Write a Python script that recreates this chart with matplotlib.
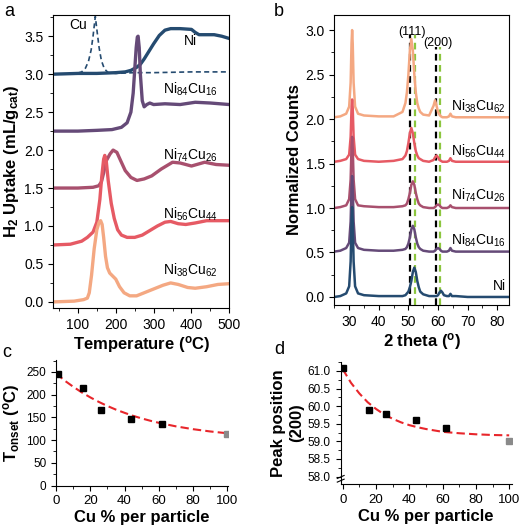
import matplotlib
matplotlib.use('Agg')
import matplotlib.pyplot as plt
from matplotlib.ticker import MultipleLocator

plt.rcParams['font.family'] = ['Liberation Sans', 'DejaVu Sans']
plt.rcParams['mathtext.fontset'] = 'custom'
plt.rcParams['mathtext.rm'] = 'Liberation Sans'
plt.rcParams['mathtext.it'] = 'Liberation Sans:italic'
plt.rcParams['mathtext.bf'] = 'Liberation Sans:bold'
plt.rcParams['mathtext.default'] = 'regular'

# colours for the samples
c_ni = '#254b70'
c_84 = '#654a78'
c_74 = '#a8506e'
c_56 = '#e65a64'
c_38 = '#f4a882'

# ---- (a) H2 TPR curves ----
cu_T = [35, 90, 110, 120, 128, 135, 140, 146, 151, 156, 162, 170, 180, 200, 250, 300, 400, 500]
cu_y = [3.00, 3.00, 3.03, 3.08, 3.17, 3.32, 3.50, 3.76, 3.55, 3.35, 3.18, 3.07, 3.02, 3.01, 3.02, 3.02, 3.03, 3.03]

ni_T = [35, 100, 150, 200, 225, 240, 255, 265, 275, 285, 300, 315, 330, 345, 370, 400, 410, 420, 440, 460, 480, 500]
ni_y = [3.00, 3.01, 3.01, 3.02, 3.03, 3.05, 3.09, 3.13, 3.20, 3.28, 3.40, 3.51, 3.58, 3.60, 3.60, 3.59, 3.55, 3.52, 3.52, 3.52, 3.50, 3.47]

n84_T = [35, 100, 150, 190, 215, 230, 240, 246, 250, 254, 257, 259, 262, 265, 270, 275, 282, 290, 300, 330, 370, 410, 450, 500]
n84_y = [2.25, 2.25, 2.26, 2.27, 2.30, 2.36, 2.50, 2.75, 3.05, 3.35, 3.49, 3.50, 3.35, 3.00, 2.65, 2.57, 2.60, 2.62, 2.60, 2.61, 2.60, 2.63, 2.62, 2.60]

n74_T = [35, 100, 140, 155, 162, 168, 175, 185, 193, 203, 213, 225, 240, 256, 275, 295, 320, 350, 370, 400, 435, 465, 500]
n74_y = [1.50, 1.50, 1.51, 1.53, 1.58, 1.70, 1.86, 1.95, 2.00, 1.97, 1.86, 1.73, 1.64, 1.60, 1.62, 1.66, 1.75, 1.84, 1.83, 1.79, 1.84, 1.81, 1.80]

n56_T = [35, 80, 110, 125, 140, 150, 158, 163, 168, 171, 175, 180, 188, 196, 205, 215, 230, 250, 270, 290, 310, 330, 345, 365, 385, 410, 440, 470, 500]
n56_y = [0.75, 0.76, 0.80, 0.85, 0.92, 1.05, 1.35, 1.65, 1.88, 1.93, 1.85, 1.60, 1.30, 1.10, 0.95, 0.88, 0.85, 0.85, 0.88, 0.94, 1.00, 1.05, 1.06, 1.03, 1.02, 1.04, 1.07, 1.07, 1.07]

n38_T = [35, 90, 115, 125, 130, 136, 143, 150, 156, 160, 164, 168, 173, 178, 184, 192, 200, 210, 222, 237, 255, 275, 300, 325, 345, 365, 390, 410, 440, 470, 500]
n38_y = [0.00, 0.01, 0.03, 0.05, 0.12, 0.35, 0.70, 0.95, 1.05, 1.07, 1.02, 0.85, 0.60, 0.45, 0.38, 0.34, 0.30, 0.20, 0.12, 0.08, 0.08, 0.12, 0.17, 0.22, 0.25, 0.23, 0.19, 0.18, 0.20, 0.23, 0.24]

# ---- (b) XRD patterns ----
tt = [25, 27, 29, 30, 30.5, 30.8, 31, 31.2, 31.5, 32, 33, 35, 40, 45, 48, 49, 49.5, 50, 50.5, 51, 51.5,
      52, 52.5, 53, 53.5, 54, 55, 57, 58.5, 59, 59.5, 60, 60.5, 61, 61.5, 62, 63, 63.7, 64.2, 64.7, 66, 70, 84]
x_ni = [0.00, 0.01, 0.04, 0.12, 0.40, 0.86, 1.01, 0.86, 0.40, 0.12, 0.04, 0.02, 0.01, 0.01, 0.01, 0.02, 0.04, 0.06, 0.11, 0.18, 0.28,
        0.33, 0.28, 0.18, 0.11, 0.06, 0.03, 0.01, 0.01, 0.01, 0.01, 0.02, 0.05, 0.07, 0.05, 0.02, 0.01, 0.01, 0.035, 0.01, 0.01, 0.00, 0.00]
x_84 = [0.51, 0.52, 0.55, 0.61, 0.85, 1.23, 1.36, 1.23, 0.85, 0.61, 0.55, 0.53, 0.52, 0.52, 0.53, 0.54, 0.56, 0.60, 0.67, 0.76, 0.80,
        0.76, 0.67, 0.60, 0.56, 0.54, 0.52, 0.51, 0.51, 0.52, 0.54, 0.55, 0.54, 0.52, 0.51, 0.51, 0.51, 0.52, 0.55, 0.52, 0.51, 0.51, 0.51]
x_74 = [1.00, 1.01, 1.03, 1.10, 1.32, 1.68, 1.80, 1.68, 1.32, 1.10, 1.03, 1.02, 1.01, 1.01, 1.02, 1.03, 1.05, 1.10, 1.17, 1.26, 1.30,
        1.26, 1.17, 1.10, 1.05, 1.03, 1.01, 1.00, 1.00, 1.01, 1.03, 1.04, 1.03, 1.01, 1.00, 1.00, 1.00, 1.01, 1.03, 1.01, 1.00, 1.00, 1.00]
x_56 = [1.52, 1.53, 1.55, 1.60, 1.80, 2.12, 2.22, 2.12, 1.80, 1.60, 1.55, 1.53, 1.52, 1.53, 1.55, 1.59, 1.64, 1.73, 1.84, 1.90, 1.84,
        1.73, 1.64, 1.59, 1.56, 1.55, 1.53, 1.52, 1.54, 1.57, 1.59, 1.57, 1.54, 1.53, 1.52, 1.52, 1.52, 1.53, 1.56, 1.53, 1.52, 1.52, 1.52]
x_38 = [2.02, 2.03, 2.06, 2.14, 2.41, 2.85, 3.00, 2.85, 2.41, 2.14, 2.06, 2.04, 2.03, 2.03, 2.08, 2.18, 2.30, 2.50, 2.77, 2.90, 2.77,
        2.50, 2.30, 2.18, 2.12, 2.08, 2.05, 2.04, 2.15, 2.21, 2.15, 2.08, 2.05, 2.03, 2.02, 2.02, 2.02, 2.03, 2.06, 2.03, 2.02, 2.02, 2.02]
cu_ref = [50.7, 59.2]   # black dashed reference lines
ni_ref = [52.1, 60.8]   # green dashed reference lines

# ---- (c) onset temperature, (d) (200) peak position ----
cu_pct = [1, 16, 26, 44, 62]
t_onset = [246, 215, 167, 146, 135]
cu_pure = [100]
t_onset_cu = [114]
fit_x = [0, 5, 10, 15, 20, 25, 30, 35, 40, 45, 50, 55, 60, 70, 80, 90, 100]
fit_c = [247, 231, 217.5, 205, 194, 184, 175, 167, 160, 153.4, 147.7, 142.6, 138, 130.2, 124, 119, 115]

d_pct = [0, 16, 26, 44, 62]
peak200 = [61.08, 59.88, 59.78, 59.62, 59.37]
peak200_cu = [59.02]
fit_d = [61.05, 60.66, 60.36, 60.11, 59.92, 59.76, 59.64, 59.54, 59.46, 59.40, 59.35, 59.31, 59.27, 59.23, 59.20, 59.18, 59.17]

fig = plt.figure(figsize=(5.2, 5.27), dpi=100)

# panel a
ax = fig.add_axes([0.1025, 0.4156, 0.3385, 0.556])
ax.plot(cu_T, cu_y, color=c_ni, lw=1.2, ls=(0, (3, 2)))
ax.plot(ni_T, ni_y, color=c_ni, lw=2.4)
ax.plot(n84_T, n84_y, color=c_84, lw=2.4)
ax.plot(n74_T, n74_y, color=c_74, lw=2.4)
ax.plot(n56_T, n56_y, color=c_56, lw=2.4)
ax.plot(n38_T, n38_y, color=c_38, lw=2.4)
ax.text(100, 3.65, 'Cu', fontsize=10, ha='center', va='center')
ax.text(396, 3.44, 'Ni', fontsize=10, ha='center', va='center')
ax.text(398, 2.80, 'Ni$_{84}$Cu$_{16}$', fontsize=10, ha='center', va='center')
ax.text(398, 1.93, 'Ni$_{74}$Cu$_{26}$', fontsize=10, ha='center', va='center')
ax.text(398, 1.16, 'Ni$_{56}$Cu$_{44}$', fontsize=10, ha='center', va='center')
ax.text(398, 0.41, 'Ni$_{38}$Cu$_{62}$', fontsize=10, ha='center', va='center')
ax.set_xlim(35, 500)
ax.set_ylim(-0.08, 3.78)
ax.xaxis.set_major_locator(MultipleLocator(100))
ax.xaxis.set_minor_locator(MultipleLocator(50))
ax.yaxis.set_major_locator(MultipleLocator(0.5))
ax.yaxis.set_minor_locator(MultipleLocator(0.25))
ax.tick_params(labelsize=10, direction='out')
ax.set_xlabel('Temperature ($^o$C)', fontsize=12, fontweight='bold', labelpad=2)
ax.set_ylabel('H$_2$ Uptake (mL/g$_{cat}$)', fontsize=12, fontweight='bold', labelpad=2)

# panel b
bx = fig.add_axes([0.643, 0.4213, 0.336, 0.5503])
for x in cu_ref:
    bx.axvline(x, ymin=0, ymax=0.93 if x < 55 else 0.89, color='black', lw=1.6, ls=(0, (3, 2)))
for x in ni_ref:
    bx.axvline(x, ymin=0, ymax=0.93 if x < 55 else 0.89, color='#8cc63e', lw=1.6, ls=(0, (3, 2)))
bx.plot(tt, x_38, color=c_38, lw=1.8)
bx.plot(tt, x_56, color=c_56, lw=1.8)
bx.plot(tt, x_74, color=c_74, lw=1.8)
bx.plot(tt, x_84, color=c_84, lw=1.8)
bx.plot(tt, x_ni, color=c_ni, lw=1.8)
bx.text(51.3, 2.98, '(111)', fontsize=9, ha='center', va='center')
bx.text(59.8, 2.85, '(200)', fontsize=9, ha='center', va='center')
bx.text(82.8, 2.14, 'Ni$_{38}$Cu$_{62}$', fontsize=10, ha='right', va='center')
bx.text(82.8, 1.64, 'Ni$_{56}$Cu$_{44}$', fontsize=10, ha='right', va='center')
bx.text(82.8, 1.14, 'Ni$_{74}$Cu$_{26}$', fontsize=10, ha='right', va='center')
bx.text(82.8, 0.64, 'Ni$_{84}$Cu$_{16}$', fontsize=10, ha='right', va='center')
bx.text(82.8, 0.12, 'Ni', fontsize=10, ha='right', va='center')
bx.set_xlim(25, 84)
bx.set_ylim(-0.09, 3.17)
bx.xaxis.set_major_locator(MultipleLocator(10))
bx.xaxis.set_minor_locator(MultipleLocator(5))
bx.yaxis.set_major_locator(MultipleLocator(0.5))
bx.yaxis.set_minor_locator(MultipleLocator(0.25))
bx.tick_params(labelsize=10, direction='out')
bx.set_xlabel('2 theta ($^o$)', fontsize=12, fontweight='bold', labelpad=2)
bx.set_ylabel('Normalized Counts', fontsize=12, fontweight='bold', labelpad=2)

# panel c
cx = fig.add_axes([0.1077, 0.0787, 0.331, 0.238])
cx.plot(fit_x, fit_c, color='#e8262b', lw=1.5, ls=(0, (4, 2)))
cx.plot(cu_pct, t_onset, 's', color='black', ms=5)
cx.plot(cu_pure, t_onset_cu, 's', color='#8a8a8a', ms=5)
cx.set_xlim(0, 100.5)
cx.set_ylim(0, 276)
cx.xaxis.set_major_locator(MultipleLocator(20))
cx.xaxis.set_minor_locator(MultipleLocator(10))
cx.yaxis.set_major_locator(MultipleLocator(50))
cx.yaxis.set_minor_locator(MultipleLocator(25))
cx.tick_params(axis='x', labelsize=9.5, direction='out')
cx.tick_params(axis='y', labelsize=8.5, direction='out')
for s in ['top', 'right']:
    cx.spines[s].set_visible(False)
cx.set_xlabel('Cu % per particle', fontsize=12, fontweight='bold', labelpad=2)
cx.set_ylabel('T$_{onset}$ ($^o$C)', fontsize=12, fontweight='bold', labelpad=3)

# panel d
dx = fig.add_axes([0.6552, 0.081, 0.3288, 0.2326])
dx.plot(fit_x, fit_d, color='#e8262b', lw=1.5, ls=(0, (4, 2)))
dx.plot(d_pct, peak200, 's', color='black', ms=5)
dx.plot(cu_pure, peak200_cu, 's', color='#8a8a8a', ms=5)
dx.set_xlim(-1.2, 101.5)
dx.set_ylim(57.78, 61.26)
dx.xaxis.set_major_locator(MultipleLocator(20))
dx.xaxis.set_minor_locator(MultipleLocator(10))
dx.yaxis.set_major_locator(MultipleLocator(0.5))
dx.yaxis.set_minor_locator(MultipleLocator(0.25))
dx.tick_params(axis='x', labelsize=9.5, direction='out')
dx.tick_params(axis='y', labelsize=8.5, direction='out')
for s in ['top', 'right']:
    dx.spines[s].set_visible(False)
# axis break mark on the y axis
for y0 in (0.03, 0.06):
    dx.plot([-0.02, 0.02], [y0 - 0.012, y0 + 0.012], transform=dx.transAxes,
            color='black', lw=0.8, clip_on=False)
dx.set_xlabel('Cu % per particle', fontsize=12, fontweight='bold', labelpad=2)
dx.set_ylabel('Peak position\n(200)', fontsize=12, fontweight='bold', labelpad=3)

fig.text(0.008, 0.995, 'a', fontsize=13, va='top')
fig.text(0.527, 0.995, 'b', fontsize=13, va='top')
fig.text(0.004, 0.348, 'c', fontsize=13, va='top')
fig.text(0.527, 0.352, 'd', fontsize=13, va='top')

fig.savefig('out.png', dpi=100)
